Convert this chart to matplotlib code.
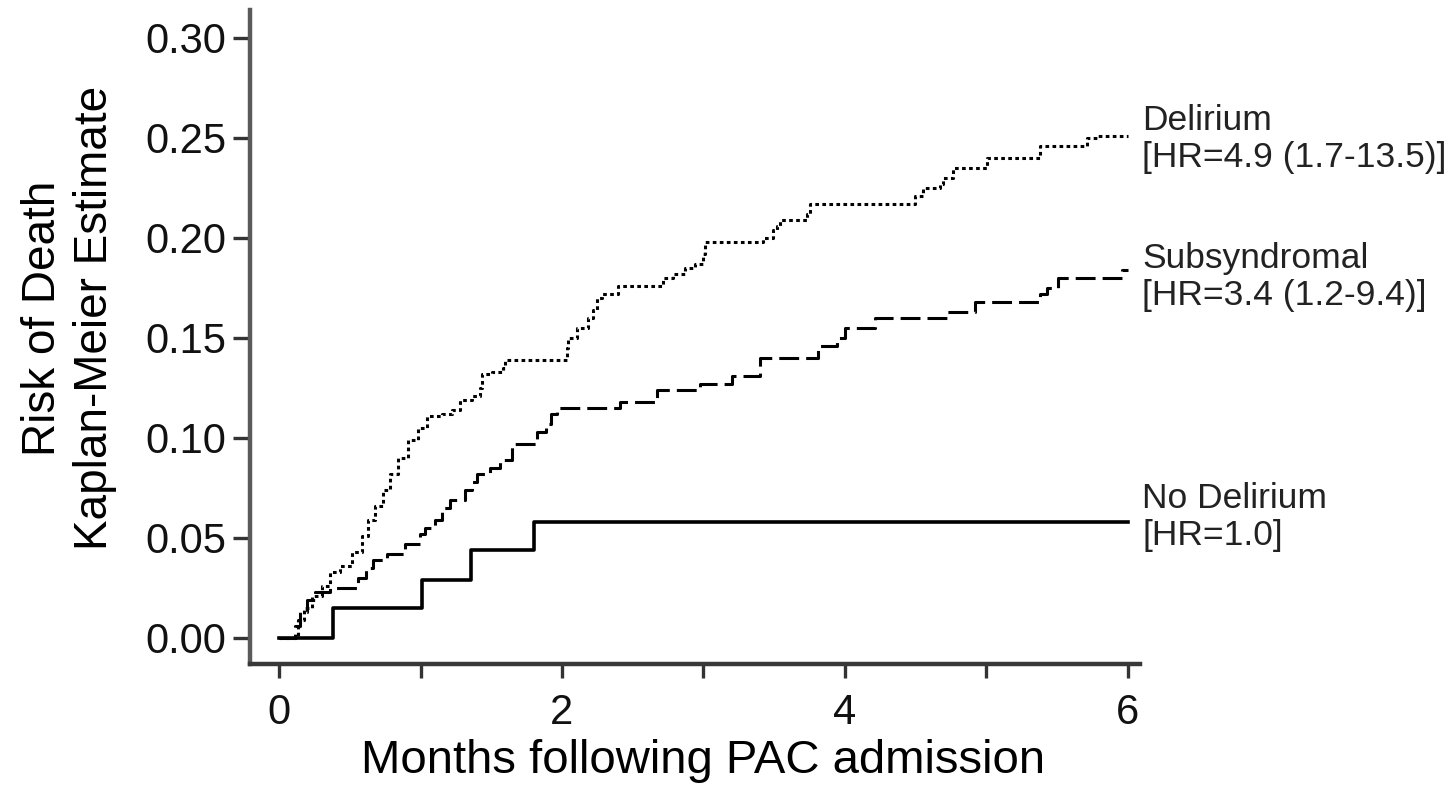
import matplotlib
matplotlib.use("Agg")
import matplotlib.pyplot as plt
from matplotlib.ticker import FormatStrFormatter

plt.rcParams['font.family'] = ['Liberation Sans', 'DejaVu Sans']

# Kaplan-Meier step points (months, risk of death)
delirium_t = [0, 0.134, 0.177, 0.233, 0.304, 0.360, 0.431, 0.516, 0.587, 0.629,
              0.678, 0.735, 0.784, 0.841, 0.912, 0.982, 1.046, 1.152, 1.223, 1.279,
              1.364, 1.420, 1.435, 1.505, 1.583, 1.597, 2.035, 2.042, 2.106, 2.184,
              2.219, 2.247, 2.283, 2.396, 2.714, 2.784, 2.869, 2.940, 2.996, 3.011,
              3.420, 3.491, 3.519, 3.541, 3.731, 3.753, 4.495, 4.551, 4.671, 4.693,
              4.763, 5.004, 5.378, 5.710, 5.781, 6.0]
delirium_r = [0, 0.009, 0.015, 0.021, 0.026, 0.033, 0.036, 0.043, 0.051, 0.059,
              0.066, 0.074, 0.082, 0.090, 0.099, 0.105, 0.111, 0.112, 0.114, 0.119,
              0.121, 0.125, 0.132, 0.133, 0.135, 0.139, 0.145, 0.150, 0.155, 0.160,
              0.164, 0.170, 0.172, 0.176, 0.180, 0.182, 0.185, 0.187, 0.192, 0.198,
              0.200, 0.204, 0.206, 0.209, 0.212, 0.217, 0.221, 0.225, 0.227, 0.230,
              0.235, 0.240, 0.246, 0.250, 0.251, 0.251]

subsyn_t = [0, 0.113, 0.148, 0.198, 0.254, 0.360, 0.558, 0.615, 0.664, 0.763,
            0.890, 0.996, 1.032, 1.102, 1.152, 1.208, 1.314, 1.364, 1.399, 1.491,
            1.562, 1.647, 1.823, 1.887, 1.922, 1.965, 2.410, 2.671, 2.975, 3.201,
            3.399, 3.809, 3.943, 4.000, 4.212, 4.721, 4.919, 5.378, 5.428, 5.505,
            5.96, 6.0]
subsyn_r = [0, 0.006, 0.013, 0.019, 0.023, 0.025, 0.030, 0.035, 0.039, 0.042,
            0.047, 0.052, 0.055, 0.059, 0.065, 0.069, 0.074, 0.078, 0.082, 0.085,
            0.089, 0.097, 0.103, 0.107, 0.112, 0.115, 0.118, 0.124, 0.127, 0.131,
            0.140, 0.146, 0.150, 0.155, 0.160, 0.163, 0.168, 0.172, 0.175, 0.180,
            0.184, 0.184]

nodel_t = [0, 0.38, 1.01, 1.36, 1.80, 6.0]
nodel_r = [0, 0.015, 0.029, 0.044, 0.058, 0.058]

labels = ["Delirium\n[HR=4.9 (1.7-13.5)]",
          "Subsyndromal\n[HR=3.4 (1.2-9.4)]",
          "No Delirium\n[HR=1.0]"]
label_y = [0.2494, 0.1805, 0.0605]

fig = plt.figure(figsize=(14.53, 7.89), dpi=100)
ax = fig.add_axes([250/1453, 125/789, 890/1453, 654/789])

ax.step(delirium_t, delirium_r, where='post', color='black', lw=2.2,
        linestyle=(0, (1.2, 1.1)), dash_capstyle='butt')
ax.step(subsyn_t, subsyn_r, where='post', color='black', lw=2.2,
        linestyle=(0, (6.5, 2.3)), dash_capstyle='butt')
ax.step(nodel_t, nodel_r, where='post', color='black', lw=2.6)

for txt, yy in zip(labels, label_y):
    ax.text(6.10, yy, txt, ha='left', va='center', fontsize=25.5,
            color='#222222', linespacing=1.15)

ax.set_xlim(-0.205, 6.085)
ax.set_ylim(-0.0132, 0.3139)
ax.set_xticks([0, 2, 4, 6])
ax.set_xticks([1, 3, 5], minor=True)
ax.set_yticks([0, 0.05, 0.10, 0.15, 0.20, 0.25, 0.30])
ax.yaxis.set_major_formatter(FormatStrFormatter('%.2f'))

for s in ['top', 'right']:
    ax.spines[s].set_visible(False)
ax.spines['left'].set_linewidth(3.2)
ax.spines['left'].set_color('#5a5a5a')
ax.spines['bottom'].set_linewidth(3.2)
ax.spines['bottom'].set_color('#383838')

ax.tick_params(axis='x', which='both', length=10, width=2.4, color='#333333',
               labelsize=30, pad=11, labelcolor='#111111')
ax.tick_params(axis='y', length=12, width=2.4, color='#333333',
               labelsize=30, pad=5, labelcolor='#111111')

ax.set_xlabel('Months following PAC admission', fontsize=34)
ax.xaxis.set_label_coords(0.509, -0.1147)
ax.set_ylabel('Risk of Death\nKaplan-Meier Estimate', fontsize=33, linespacing=1.25)
ax.yaxis.set_label_coords(-0.1494, 0.529)

fig.savefig('out.png', dpi=100)
